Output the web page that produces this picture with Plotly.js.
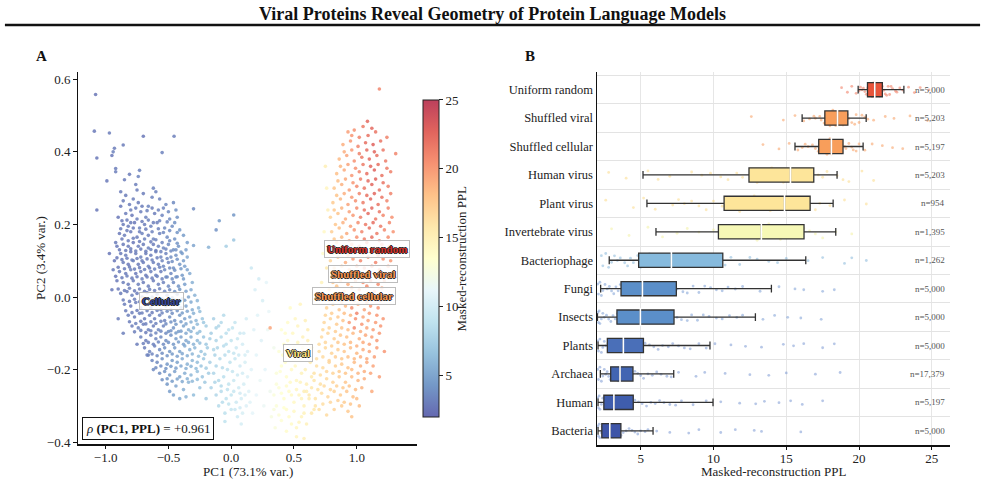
<!DOCTYPE html>
<html>
<head>
<meta charset="utf-8">
<script src="https://cdn.plot.ly/plotly-3.0.1.min.js"></script>
<style>
  html, body { margin: 0; padding: 0; background: #fff; }
  #chart { width: 985px; height: 482px; }
</style>
</head>
<body>
<div id="chart"></div>
<script>
// ---------- Panel A: PCA embedding, rows of [PC1, PC2, PPL] ----------
const cellularSparse = [
  [-1.08,0.558,2.6],[-1.09,0.457,2.8],[-0.97,0.452,3.0],[-0.70,0.443,2.7],[-0.455,0.443,3.1],[-0.86,0.419,2.9],[-0.94,0.40,3.2],[-0.93,0.41,3.0],[-0.95,0.39,2.8],[-0.55,0.398,3.3],
  [-1.07,0.383,2.7],[-0.92,0.354,3.0],[-0.92,0.345,3.1],[-0.73,0.349,3.2],[-0.81,0.338,2.9],[-0.74,0.332,3.4],[-0.85,0.323,3.0],[-0.99,0.32,2.8],[-1.07,0.24,2.7],[-0.30,0.243,3.6],
  [0.02,0.226,4.2],[-0.095,0.21,4.5],[-0.12,0.185,4.0],[0.02,0.157,6.8],[-0.04,0.14,7.5],[-0.18,0.137,5.8],[-0.30,0.142,5.0],[-0.88,0.29,3.0],[-0.62,0.30,3.3],[-0.76,0.31,3.1]
];
const cellularUpper = [
  [-0.84,0.28,2.9],[-0.78,0.27,3.1],[-0.70,0.285,3.0],[-0.63,0.275,3.3],[-0.57,0.27,3.2],[-0.88,0.25,2.8],[-0.81,0.255,3.0],[-0.74,0.26,2.9],[-0.66,0.25,3.4],[-0.52,0.255,3.5],
  [-0.46,0.26,3.6],[-0.90,0.22,2.7],[-0.84,0.23,3.0],[-0.79,0.225,2.8],[-0.72,0.235,3.1],[-0.68,0.22,3.2],[-0.61,0.23,3.0],[-0.55,0.225,3.4],[-0.49,0.215,3.7],[-0.43,0.22,3.9],
  [-0.86,0.20,2.9],[-0.82,0.195,3.0],[-0.77,0.205,2.7],[-0.73,0.19,3.2],[-0.69,0.20,3.0],[-0.64,0.195,3.3],[-0.59,0.205,3.1],[-0.53,0.19,3.6],[-0.47,0.195,3.8],[-0.41,0.185,4.2],
  [-0.89,0.175,2.8],[-0.85,0.17,3.1],[-0.80,0.18,2.9],[-0.75,0.165,3.0],[-0.71,0.175,3.3],[-0.66,0.17,3.1],[-0.62,0.16,3.4],[-0.57,0.175,3.2],[-0.51,0.165,3.7],[-0.45,0.16,4.0],
  [-0.38,0.17,4.5],[-0.35,0.15,4.8],[-0.92,0.15,2.9],[-0.60,0.29,3.2],[-0.75,0.295,3.0],
  [-0.86,0.265,2.9],[-0.80,0.24,3.0],[-0.76,0.245,3.1],[-0.71,0.25,2.9],[-0.67,0.238,3.2],[-0.63,0.245,3.0],[-0.58,0.24,3.3],[-0.54,0.245,3.4],[-0.50,0.235,3.6],[-0.44,0.24,3.9],
  [-0.87,0.21,2.8],[-0.83,0.212,3.0],[-0.80,0.205,2.9],[-0.75,0.215,3.1],[-0.71,0.208,3.0],[-0.66,0.212,3.2],[-0.62,0.205,3.1],[-0.57,0.21,3.4],[-0.51,0.207,3.5],[-0.45,0.205,3.9],
  [-0.88,0.188,2.9],[-0.83,0.183,3.0],[-0.78,0.19,2.8],[-0.73,0.18,3.1],[-0.68,0.187,3.0],[-0.63,0.18,3.3],[-0.58,0.188,3.2],[-0.54,0.178,3.5],[-0.49,0.183,3.7],[-0.43,0.178,4.1],
  [-0.87,0.16,2.8],[-0.82,0.155,3.0],[-0.78,0.162,3.1],[-0.73,0.153,2.9],[-0.69,0.16,3.2],[-0.64,0.152,3.0],[-0.60,0.158,3.3],[-0.55,0.15,3.4],[-0.49,0.155,3.7],[-0.43,0.148,4.1]
];
const cellularCore = [
  [-0.91,0.14,2.8],[-0.86,0.145,2.9],[-0.82,0.14,3.0],[-0.78,0.15,2.7],[-0.74,0.14,3.1],[-0.70,0.145,2.9],[-0.66,0.135,3.2],[-0.62,0.145,3.0],[-0.58,0.14,3.3],[-0.54,0.135,3.5],
  [-0.50,0.145,3.6],[-0.46,0.13,3.9],[-0.42,0.14,4.1],[-0.88,0.12,2.9],[-0.84,0.115,3.1],[-0.80,0.125,2.8],[-0.76,0.12,3.0],[-0.72,0.11,3.2],[-0.68,0.12,2.9],[-0.64,0.115,3.1],
  [-0.60,0.125,3.0],[-0.56,0.11,3.4],[-0.52,0.12,3.3],[-0.48,0.11,3.8],[-0.44,0.115,4.0],[-0.39,0.12,4.6],[-0.35,0.11,5.2],[-0.93,0.10,2.7],[-0.86,0.095,3.0],[-0.82,0.09,2.8],
  [-0.78,0.10,3.1],[-0.74,0.09,2.9],[-0.70,0.095,3.0],[-0.66,0.085,3.3],[-0.62,0.095,3.1],[-0.58,0.09,3.2],[-0.54,0.085,3.5],[-0.50,0.095,3.4],[-0.46,0.08,3.9],[-0.41,0.09,4.3],
  [-0.37,0.085,4.8],[-0.89,0.07,2.9],[-0.84,0.065,3.0],[-0.80,0.075,3.2],[-0.76,0.065,2.8],[-0.72,0.07,3.1],[-0.68,0.06,3.0],[-0.64,0.07,3.2],[-0.60,0.06,3.4],[-0.56,0.07,3.1],
  [-0.52,0.055,3.6],[-0.48,0.065,3.5],[-0.44,0.055,4.0],[-0.39,0.06,4.4],[-0.33,0.065,5.4],[-0.91,0.045,2.8],[-0.86,0.04,3.1],[-0.82,0.035,2.9],[-0.78,0.045,3.0],[-0.74,0.035,3.2],
  [-0.70,0.04,2.9],[-0.66,0.03,3.1],[-0.62,0.045,3.0],[-0.58,0.035,3.3],[-0.54,0.04,3.2],[-0.50,0.03,3.7],[-0.46,0.04,3.6],[-0.42,0.03,4.1],[-0.37,0.035,4.7],[-0.31,0.04,5.6],
  [-0.89,0.13,2.8],[-0.84,0.128,3.0],[-0.80,0.133,2.9],[-0.76,0.127,3.1],[-0.72,0.132,2.8],[-0.68,0.126,3.0],[-0.64,0.131,3.2],[-0.60,0.128,3.1],[-0.56,0.125,3.3],[-0.52,0.132,3.4],
  [-0.48,0.127,3.7],[-0.44,0.13,4.0],[-0.40,0.124,4.3],[-0.36,0.13,4.8],
  [-0.91,0.108,2.7],[-0.87,0.103,2.9],[-0.83,0.107,3.0],[-0.79,0.102,3.2],[-0.75,0.106,2.9],[-0.71,0.10,3.1],[-0.67,0.105,3.0],[-0.63,0.102,3.2],[-0.59,0.108,3.1],[-0.55,0.10,3.4],
  [-0.51,0.106,3.5],[-0.47,0.098,3.8],[-0.43,0.104,4.1],[-0.38,0.10,4.6],
  [-0.90,0.082,2.8],[-0.85,0.078,3.0],[-0.81,0.083,2.9],[-0.77,0.077,3.1],[-0.73,0.081,3.0],[-0.69,0.076,3.2],[-0.65,0.08,3.0],[-0.61,0.077,3.3],[-0.57,0.082,3.2],[-0.53,0.075,3.5],
  [-0.49,0.08,3.6],[-0.45,0.074,3.9],[-0.40,0.078,4.4],[-0.35,0.075,5.0],
  [-0.92,0.057,2.7],[-0.87,0.053,2.9],[-0.83,0.058,3.1],[-0.79,0.052,2.9],[-0.75,0.056,3.0],[-0.71,0.05,3.2],[-0.67,0.055,3.0],[-0.63,0.052,3.1],[-0.59,0.057,3.3],[-0.55,0.05,3.3],
  [-0.51,0.055,3.6],[-0.47,0.05,3.8],[-0.43,0.056,4.0],[-0.38,0.05,4.6],
  [-0.90,0.022,2.8],[-0.85,0.018,3.0],[-0.81,0.024,3.1],[-0.77,0.017,2.9],[-0.73,0.022,3.1],[-0.69,0.016,3.0],[-0.65,0.021,3.2],[-0.61,0.018,3.1],[-0.57,0.023,3.3],[-0.53,0.016,3.5],
  [-0.49,0.02,3.6],[-0.45,0.015,4.0],[-0.41,0.021,4.2],[-0.36,0.016,4.8],[-0.32,0.02,5.3]
];
const cellularLower = [
  [-0.88,0.01,2.9],[-0.83,0.015,3.0],[-0.79,0.005,3.2],[-0.75,0.01,2.9],[-0.71,0.0,3.1],[-0.67,0.012,3.0],[-0.63,0.0,3.3],[-0.59,0.008,3.1],[-0.55,-0.005,3.4],[-0.51,0.005,3.6],
  [-0.47,-0.002,3.8],[-0.43,0.008,4.0],[-0.39,-0.005,4.5],[-0.34,0.0,5.0],[-0.29,0.005,5.8],[-0.85,-0.02,3.0],[-0.80,-0.025,2.8],[-0.76,-0.015,3.1],[-0.72,-0.03,3.0],[-0.68,-0.02,3.2],
  [-0.64,-0.03,2.9],[-0.60,-0.02,3.3],[-0.56,-0.035,3.2],[-0.52,-0.025,3.5],[-0.48,-0.035,3.7],[-0.44,-0.02,3.9],[-0.40,-0.03,4.4],[-0.36,-0.025,4.9],[-0.31,-0.035,5.5],[-0.26,-0.03,6.2],
  [-0.82,-0.05,3.1],[-0.77,-0.055,2.9],[-0.73,-0.045,3.2],[-0.69,-0.06,3.0],[-0.65,-0.05,3.3],[-0.61,-0.06,3.1],[-0.57,-0.05,3.4],[-0.53,-0.065,3.3],[-0.49,-0.055,3.8],[-0.45,-0.065,4.0],
  [-0.41,-0.05,4.3],[-0.37,-0.06,4.8],[-0.33,-0.055,5.3],[-0.28,-0.065,6.0],[-0.23,-0.06,6.8],[-0.79,-0.08,3.0],[-0.74,-0.085,3.3],[-0.70,-0.075,3.1],[-0.66,-0.09,3.2],[-0.62,-0.08,3.0],
  [-0.58,-0.09,3.5],[-0.54,-0.08,3.4],[-0.50,-0.095,3.9],[-0.46,-0.085,4.1],[-0.42,-0.095,4.6],[-0.38,-0.08,4.9],[-0.34,-0.09,5.5],[-0.30,-0.085,5.9],[-0.25,-0.095,6.5],[-0.20,-0.08,7.3],
  [-0.95,0.02,2.8],[-0.90,-0.06,3.0],[-0.97,0.12,2.7],[-0.86,-0.10,3.1],[-0.94,0.075,2.9],
  [-0.86,-0.008,3.0],[-0.81,-0.012,2.9],[-0.77,-0.006,3.1],[-0.73,-0.013,3.0],[-0.69,-0.007,3.2],[-0.65,-0.012,3.0],[-0.61,-0.006,3.2],[-0.57,-0.013,3.3],[-0.53,-0.008,3.5],[-0.49,-0.014,3.7],
  [-0.45,-0.008,3.9],[-0.41,-0.013,4.3],[-0.37,-0.009,4.7],[-0.32,-0.014,5.3],[-0.27,-0.01,6.0],
  [-0.84,-0.038,3.0],[-0.79,-0.043,3.1],[-0.75,-0.037,2.9],[-0.71,-0.044,3.1],[-0.67,-0.038,3.2],[-0.63,-0.043,3.0],[-0.59,-0.037,3.3],[-0.55,-0.044,3.4],[-0.51,-0.039,3.6],[-0.47,-0.045,3.8],
  [-0.43,-0.038,4.1],[-0.39,-0.044,4.5],[-0.35,-0.039,5.0],[-0.30,-0.045,5.7],[-0.25,-0.04,6.4],
  [-0.81,-0.068,3.0],[-0.76,-0.073,3.2],[-0.72,-0.067,3.0],[-0.68,-0.074,3.1],[-0.64,-0.068,3.3],[-0.60,-0.073,3.2],[-0.56,-0.067,3.4],[-0.52,-0.074,3.6],[-0.48,-0.069,3.9],[-0.44,-0.075,4.2],
  [-0.40,-0.068,4.6],[-0.36,-0.074,5.0],[-0.32,-0.069,5.6],[-0.27,-0.075,6.2],[-0.22,-0.07,7.0],
  [-0.77,-0.096,3.1],[-0.72,-0.092,3.2],[-0.68,-0.098,3.0],[-0.64,-0.093,3.3],[-0.60,-0.099,3.4],[-0.56,-0.094,3.5],[-0.52,-0.1,3.7],[-0.48,-0.093,4.0],[-0.44,-0.099,4.4],[-0.40,-0.094,4.7],
  [-0.36,-0.1,5.2],[-0.32,-0.095,5.7],[-0.27,-0.1,6.3]
];
const cellularTail = [
  [-0.72,-0.11,3.2],[-0.68,-0.12,3.0],[-0.64,-0.105,3.3],[-0.60,-0.115,3.4],[-0.56,-0.11,3.6],[-0.52,-0.12,3.8],[-0.48,-0.105,4.0],[-0.44,-0.115,4.5],[-0.40,-0.11,4.8],[-0.36,-0.12,5.2],
  [-0.32,-0.11,5.6],[-0.27,-0.12,6.2],[-0.22,-0.11,6.8],[-0.17,-0.115,7.5],[-0.69,-0.14,3.1],[-0.65,-0.15,3.4],[-0.61,-0.135,3.3],[-0.57,-0.145,3.7],[-0.53,-0.14,3.9],[-0.49,-0.15,4.2],
  [-0.45,-0.14,4.6],[-0.41,-0.15,4.9],[-0.37,-0.135,5.3],[-0.33,-0.145,5.8],[-0.29,-0.14,6.1],[-0.24,-0.15,6.7],[-0.19,-0.14,7.2],[-0.14,-0.145,8.0],[-0.63,-0.175,3.5],[-0.59,-0.18,3.6],
  [-0.55,-0.17,3.9],[-0.51,-0.185,4.3],[-0.47,-0.175,4.5],[-0.43,-0.18,4.9],[-0.39,-0.17,5.4],[-0.35,-0.185,5.7],[-0.31,-0.175,6.0],[-0.27,-0.18,6.4],[-0.22,-0.17,7.0],[-0.17,-0.18,7.6],
  [-0.57,-0.21,3.8],[-0.53,-0.205,4.1],[-0.49,-0.215,4.4],[-0.45,-0.205,4.8],[-0.41,-0.22,5.1],[-0.37,-0.21,5.5],[-0.32,-0.215,6.0],[-0.27,-0.205,6.5],[-0.23,-0.22,6.9],[-0.18,-0.21,7.4],
  [-0.51,-0.24,4.2],[-0.49,-0.26,4.6],[-0.44,-0.245,5.0],[-0.38,-0.255,5.6],[-0.30,-0.27,6.3],[-0.34,-0.235,5.9],[-0.25,-0.25,6.9],[-0.62,-0.20,3.7],[-0.66,-0.16,3.3],[-0.75,-0.13,3.0],
  [-0.70,-0.128,3.1],[-0.66,-0.125,3.2],[-0.62,-0.13,3.3],[-0.58,-0.124,3.5],[-0.54,-0.13,3.7],[-0.50,-0.125,4.0],[-0.46,-0.13,4.3],[-0.42,-0.124,4.7],[-0.38,-0.13,5.0],[-0.34,-0.125,5.4],
  [-0.30,-0.13,5.8],[-0.25,-0.127,6.4],[-0.20,-0.13,7.0],
  [-0.67,-0.16,3.3],[-0.63,-0.157,3.4],[-0.59,-0.162,3.6],[-0.55,-0.155,3.8],[-0.51,-0.162,4.1],[-0.47,-0.157,4.4],[-0.43,-0.163,4.8],[-0.39,-0.156,5.2],[-0.35,-0.162,5.5],[-0.31,-0.157,5.9],
  [-0.26,-0.163,6.5],[-0.21,-0.158,7.1],
  [-0.60,-0.195,3.6],[-0.56,-0.19,3.8],[-0.52,-0.197,4.1],[-0.48,-0.191,4.4],[-0.44,-0.196,4.8],[-0.40,-0.19,5.2],[-0.36,-0.197,5.6],[-0.32,-0.191,5.9],[-0.28,-0.197,6.3],[-0.24,-0.19,6.8],
  [-0.20,-0.196,7.3],
  [-0.55,-0.228,3.9],[-0.51,-0.225,4.2],[-0.47,-0.232,4.5],[-0.43,-0.226,4.9],[-0.39,-0.233,5.3],[-0.35,-0.225,5.7],[-0.31,-0.232,6.1],[-0.27,-0.227,6.5],[-0.21,-0.235,7.1],[-0.46,-0.27,4.9],
  [-0.41,-0.28,5.3],[-0.36,-0.275,5.8]
];
const transition = [
  [-0.14,-0.06,7.6],[-0.10,-0.08,8.0],[-0.06,-0.05,8.3],[-0.02,-0.09,8.8],[0.03,-0.07,9.2],[0.07,-0.10,9.6],[-0.16,-0.10,7.4],[-0.12,-0.12,7.9],[-0.08,-0.11,8.3],[-0.04,-0.13,8.6],
  [0.00,-0.12,9.0],[0.04,-0.14,9.5],[0.09,-0.13,10.0],[0.13,-0.15,10.4],[-0.13,-0.16,7.8],[-0.09,-0.17,8.2],[-0.05,-0.16,8.5],[-0.01,-0.18,8.9],[0.03,-0.17,9.3],[0.07,-0.19,9.8],
  [0.11,-0.18,10.2],[0.16,-0.20,10.7],[-0.14,-0.21,7.9],[-0.10,-0.23,8.1],[-0.06,-0.22,8.6],[-0.02,-0.24,9.0],[0.02,-0.23,9.4],[0.06,-0.25,9.7],[0.10,-0.24,10.1],[0.14,-0.26,10.6],
  [-0.16,-0.25,7.7],[-0.12,-0.27,8.0],[-0.08,-0.26,8.4],[-0.04,-0.28,8.8],[0.00,-0.27,9.1],[0.04,-0.29,9.6],[0.08,-0.28,10.0],[0.12,-0.30,10.5],[-0.10,-0.30,8.3],[-0.05,-0.32,8.7],
  [0.00,-0.31,9.2],[0.05,-0.33,9.7],[0.09,-0.32,10.2],[-0.05,-0.343,8.9],[0.08,-0.35,10.1],[0.17,-0.32,11.0],[0.18,-0.09,10.6],[0.12,-0.06,10.0],[-0.20,-0.28,7.4],[0.20,-0.27,11.2],
  [0.16,0.08,9.5],[0.22,0.05,9.9],[0.19,0.02,10.3],[0.25,-0.01,10.2],[0.28,0.04,11.0],[0.21,-0.05,10.8],[0.30,-0.04,11.3],[0.24,-0.12,10.6],[0.20,-0.16,10.9],[0.27,-0.20,11.0],
  [0.23,-0.23,11.4],[0.31,-0.26,11.8],[0.26,-0.30,11.5],[0.34,-0.14,12.0],[0.29,-0.09,11.6],
  [-0.12,-0.085,7.8],[-0.08,-0.07,8.2],[-0.04,-0.1,8.6],[0.01,-0.085,9.1],[0.05,-0.115,9.4],[0.10,-0.1,9.9],[-0.11,-0.14,8.0],[-0.06,-0.135,8.4],[-0.02,-0.15,8.8],[0.02,-0.155,9.2],
  [0.06,-0.16,9.6],[0.11,-0.16,10.1],[-0.12,-0.19,7.9],[-0.07,-0.195,8.4],[-0.03,-0.2,8.8],[0.01,-0.205,9.2],[0.05,-0.215,9.6],[0.09,-0.21,10.0],[0.13,-0.22,10.5],[-0.13,-0.235,7.9],
  [-0.08,-0.245,8.3],[-0.03,-0.255,8.8],[0.02,-0.26,9.3],[0.07,-0.265,9.8],[0.11,-0.27,10.3],[-0.07,-0.29,8.5],[-0.02,-0.295,9.0],[0.03,-0.31,9.5],[0.07,-0.305,9.9],[0.15,-0.29,10.8]
];
const viralLow = [
  [0.32,-0.33,12.6],[0.36,-0.30,13.0],[0.40,-0.34,13.3],[0.44,-0.31,13.7],[0.48,-0.35,14.0],[0.52,-0.36,14.3],[0.56,-0.33,14.6],[0.60,-0.35,15.0],[0.34,-0.27,12.9],[0.38,-0.25,13.2],
  [0.42,-0.28,13.6],[0.46,-0.26,13.9],[0.50,-0.29,14.2],[0.54,-0.27,14.6],[0.58,-0.30,14.9],[0.62,-0.28,15.3],[0.36,-0.21,13.0],[0.40,-0.19,13.4],[0.44,-0.22,13.7],[0.48,-0.20,14.1],
  [0.52,-0.23,14.4],[0.56,-0.21,14.8],[0.60,-0.24,15.1],[0.64,-0.22,15.5],[0.38,-0.15,13.2],[0.42,-0.13,13.5],[0.46,-0.16,13.9],[0.50,-0.14,14.3],[0.55,-0.17,14.7],[0.59,-0.15,15.0],
  [0.63,-0.18,15.4],[0.40,-0.09,13.4],[0.45,-0.07,13.8],[0.49,-0.10,14.2],[0.53,-0.08,14.5],[0.57,-0.11,14.9],[0.61,-0.09,15.3],[0.44,-0.37,13.8],[0.52,-0.385,14.5],[0.35,-0.36,12.8],
  [0.47,-0.03,13.9],[0.55,-0.02,14.6],[0.66,-0.31,15.6],[0.58,-0.39,15.0],[0.31,-0.085,19.5],
  [0.34,-0.31,12.8],[0.38,-0.325,13.1],[0.42,-0.305,13.5],[0.46,-0.33,13.9],[0.50,-0.315,14.2],[0.54,-0.345,14.5],[0.58,-0.32,14.8],[0.36,-0.24,13.0],[0.40,-0.265,13.4],[0.44,-0.245,13.8],
  [0.48,-0.27,14.1],[0.52,-0.255,14.4],[0.56,-0.28,14.7],[0.60,-0.26,15.1],[0.39,-0.205,13.3],[0.43,-0.18,13.6],[0.47,-0.235,14.0],[0.51,-0.19,14.3],[0.55,-0.235,14.7],[0.59,-0.2,15.0],
  [0.41,-0.16,13.5],[0.45,-0.12,13.8],[0.49,-0.17,14.1],[0.53,-0.125,14.5],[0.57,-0.14,14.8],[0.61,-0.12,15.2],[0.43,-0.1,13.7],[0.51,-0.06,14.3],[0.59,-0.065,15.0],[0.64,-0.14,15.5]
];
const columnLow = [
  [0.64,-0.32,15.8],[0.70,-0.31,16.2],[0.76,-0.325,16.6],[0.82,-0.31,17.0],[0.88,-0.30,17.3],[0.93,-0.315,17.6],
  [0.62,-0.27,15.7],[0.67,-0.28,16.0],[0.72,-0.265,16.4],[0.77,-0.275,16.8],[0.82,-0.26,17.1],[0.87,-0.27,17.4],[0.92,-0.26,17.8],[0.97,-0.275,18.1],
  [0.66,-0.23,16.0],[0.71,-0.24,16.3],[0.76,-0.225,16.7],[0.81,-0.235,17.0],[0.86,-0.22,17.5],[0.91,-0.235,17.8],[0.96,-0.22,18.2],[1.01,-0.23,18.6],[1.06,-0.225,19.0],
  [0.68,-0.19,16.2],[0.73,-0.195,16.5],[0.78,-0.18,16.9],[0.83,-0.19,17.2],[0.88,-0.185,17.6],[0.93,-0.195,18.0],[0.98,-0.18,18.4],[1.03,-0.19,18.8],[1.08,-0.18,19.2],[1.13,-0.19,19.5],
  [0.70,-0.15,16.4],[0.75,-0.14,16.7],[0.80,-0.155,17.1],[0.85,-0.145,17.4],[0.90,-0.15,17.8],[0.95,-0.14,18.2],[1.00,-0.155,18.6],[1.05,-0.145,19.0],[1.10,-0.15,19.4],[1.16,-0.14,19.8],
  [0.72,-0.11,16.6],[0.77,-0.10,16.9],[0.82,-0.115,17.3],[0.87,-0.105,17.7],[0.92,-0.11,18.1],[0.97,-0.10,18.5],[1.02,-0.115,18.9],[1.07,-0.105,19.3],[1.12,-0.11,19.7],[1.18,-0.10,20.0],
  [0.74,-0.07,16.8],[0.79,-0.06,17.1],[0.84,-0.075,17.5],[0.89,-0.065,18.0],[0.94,-0.07,19.8],[0.99,-0.06,20.4],[1.04,-0.075,20.1],[1.09,-0.065,19.5],[1.15,-0.07,19.9],[1.21,-0.06,20.2],
  [0.76,-0.03,17.0],[0.81,-0.02,17.4],[0.86,-0.035,17.9],[0.91,-0.025,18.4],[0.96,-0.03,20.6],[1.01,-0.02,19.2],[1.06,-0.035,19.6],[1.11,-0.025,20.0],[1.17,-0.03,20.3],
  [1.22,-0.15,20.2],[1.18,-0.22,19.8],[1.12,-0.26,19.2],[1.02,-0.30,18.3],[0.96,-0.33,18.0],[0.58,-0.26,15.3],
  [0.67,-0.30,16.0],[0.73,-0.295,16.4],[0.79,-0.29,16.8],[0.85,-0.285,17.2],[0.90,-0.29,17.5],[0.95,-0.295,17.9],[1.00,-0.28,18.2],
  [0.64,-0.25,15.8],[0.69,-0.255,16.1],[0.74,-0.245,16.5],[0.79,-0.255,16.9],[0.84,-0.245,17.2],[0.89,-0.25,17.6],[0.94,-0.245,18.0],[0.99,-0.255,18.3],[1.04,-0.25,18.7],
  [0.66,-0.21,16.1],[0.71,-0.215,16.4],[0.76,-0.205,16.8],[0.81,-0.21,17.1],[0.86,-0.205,17.5],[0.91,-0.21,17.9],[0.96,-0.2,18.3],[1.01,-0.21,18.7],[1.06,-0.205,19.0],[1.11,-0.21,19.4],
  [0.68,-0.17,16.3],[0.73,-0.165,16.6],[0.78,-0.175,17.0],[0.83,-0.165,17.3],[0.88,-0.17,17.7],[0.93,-0.165,18.1],[0.98,-0.17,18.5],[1.03,-0.165,18.9],[1.08,-0.17,19.3],[1.14,-0.165,19.7],
  [0.70,-0.13,16.5],[0.75,-0.125,16.8],[0.80,-0.135,17.2],[0.85,-0.125,17.6],[0.90,-0.13,18.0],[0.95,-0.125,18.4],[1.00,-0.135,18.8],[1.05,-0.125,19.2],[1.10,-0.13,19.6],[1.16,-0.12,20.0],
  [0.73,-0.09,16.7],[0.78,-0.085,17.0],[0.83,-0.095,17.4],[0.88,-0.085,17.8],[0.93,-0.09,18.2],[0.98,-0.085,20.8],[1.03,-0.095,19.0],[1.08,-0.085,19.4],[1.13,-0.09,19.8],[1.19,-0.08,20.1],
  [0.75,-0.05,16.9],[0.80,-0.045,17.3],[0.85,-0.055,17.7],[0.90,-0.045,18.2],[0.95,-0.05,18.6],[1.00,-0.045,21.0],[1.05,-0.055,19.4],[1.10,-0.045,19.8],[1.16,-0.05,20.2],
  [0.78,-0.01,17.1],[0.83,-0.005,17.6],[0.88,-0.015,18.1],[0.93,-0.005,18.6],[0.98,-0.01,19.1],[1.03,-0.005,20.9],[1.08,-0.015,19.7],[1.13,-0.005,20.1],[1.19,-0.01,20.4]
];
const columnHigh = [
  [0.78,0.02,17.2],[0.84,0.03,17.8],[0.90,0.015,18.5],[0.96,0.025,19.3],[1.02,0.02,20.0],[1.08,0.03,20.6],[1.14,0.015,20.2],[1.20,0.025,19.8],
  [0.80,0.06,17.5],[0.86,0.07,18.1],[0.92,0.055,18.9],[0.98,0.065,19.6],[1.04,0.06,20.3],[1.10,0.07,21.0],[1.16,0.055,20.5],[1.23,0.065,20.1],
  [0.79,0.10,17.0],[0.85,0.11,18.3],[0.91,0.095,19.0],[0.97,0.105,19.8],[1.03,0.10,20.8],[1.09,0.11,21.5],[1.15,0.095,21.0],[1.21,0.105,20.4],[1.27,0.10,20.0],
  [0.78,0.14,16.8],[0.84,0.15,17.9],[0.90,0.135,18.8],[0.96,0.145,19.9],[1.02,0.14,20.7],[1.08,0.15,21.8],[1.14,0.135,21.2],[1.20,0.145,20.6],[1.26,0.14,20.1],
  [0.80,0.18,17.3],[0.86,0.19,18.2],[0.92,0.175,19.3],[0.98,0.185,20.2],[1.04,0.18,21.0],[1.10,0.19,22.0],[1.16,0.175,21.4],[1.22,0.185,20.8],[1.29,0.18,20.3],
  [0.79,0.22,17.1],[0.85,0.23,18.0],[0.91,0.215,19.1],[0.97,0.225,20.0],[1.03,0.22,21.2],[1.09,0.23,22.3],[1.15,0.215,21.6],[1.21,0.225,20.9],[1.28,0.22,20.4],
  [0.81,0.26,17.6],[0.87,0.27,18.6],[0.93,0.255,19.6],[0.99,0.265,20.5],[1.05,0.26,21.5],[1.11,0.27,22.5],[1.17,0.255,21.8],[1.24,0.265,21.0],
  [0.82,0.30,17.8],[0.88,0.31,18.9],[0.94,0.295,19.8],[1.00,0.305,20.8],[1.06,0.30,21.7],[1.12,0.31,22.6],[1.18,0.295,21.9],[1.25,0.305,21.2],
  [0.84,0.34,18.2],[0.90,0.35,19.2],[0.96,0.335,20.1],[1.02,0.345,21.0],[1.08,0.34,22.1],[1.14,0.35,22.8],[1.20,0.335,21.9],[1.27,0.345,21.3],
  [0.86,0.38,18.5],[0.92,0.39,19.5],[0.98,0.375,20.4],[1.04,0.385,21.6],[1.10,0.38,22.4],[1.16,0.39,22.0],[1.23,0.375,21.5],
  [0.89,0.42,19.0],[0.95,0.43,20.0],[1.01,0.415,21.0],[1.07,0.425,22.2],[1.13,0.42,22.8],[1.19,0.43,21.8],[1.31,0.395,21.0],
  [0.98,0.46,20.5],[1.05,0.47,21.5],[1.085,0.484,22.5],[1.15,0.455,21.8],[1.18,0.573,21.0],[0.93,0.455,19.8],[1.24,0.44,21.2],
  [0.76,0.30,14.5],[0.77,0.24,15.0],[0.74,0.18,14.2],[0.76,0.08,15.5],[0.72,0.04,14.8],[0.75,0.36,15.2],[0.73,0.12,13.8],
  [0.81,0.04,17.6],[0.87,0.045,18.2],[0.93,0.035,19.0],[0.99,0.045,19.7],[1.05,0.04,20.4],[1.11,0.045,21.1],[1.17,0.035,20.6],[1.22,0.045,20.2],
  [0.82,0.08,17.7],[0.88,0.085,18.4],[0.94,0.075,19.2],[1.00,0.085,20.0],[1.06,0.08,20.8],[1.12,0.085,21.3],[1.18,0.075,20.7],[1.25,0.085,20.2],
  [0.81,0.12,17.4],[0.87,0.125,18.5],[0.93,0.115,19.3],[0.99,0.125,20.1],[1.05,0.12,21.0],[1.11,0.125,21.7],[1.17,0.115,21.1],[1.24,0.125,20.5],
  [0.82,0.16,17.6],[0.88,0.165,18.6],[0.94,0.155,19.5],[1.00,0.165,20.4],[1.06,0.16,21.3],[1.12,0.165,22.0],[1.18,0.155,21.3],[1.25,0.165,20.6],
  [0.83,0.20,17.8],[0.89,0.205,18.8],[0.95,0.195,19.7],[1.01,0.205,20.6],[1.07,0.20,21.6],[1.13,0.205,22.2],[1.19,0.195,21.5],[1.26,0.205,20.8],
  [0.82,0.24,17.7],[0.88,0.245,18.7],[0.94,0.235,19.7],[1.00,0.245,20.7],[1.06,0.24,21.8],[1.12,0.245,22.4],[1.18,0.235,21.7],[1.25,0.245,21.0],
  [0.84,0.28,18.0],[0.90,0.285,19.0],[0.96,0.275,20.0],[1.02,0.285,21.0],[1.08,0.28,22.0],[1.14,0.285,22.6],[1.20,0.275,21.8],[1.27,0.285,21.1],
  [0.85,0.32,18.3],[0.91,0.325,19.3],[0.97,0.315,20.2],[1.03,0.325,21.2],[1.09,0.32,22.3],[1.15,0.325,22.7],[1.21,0.315,21.9],
  [0.87,0.36,18.6],[0.93,0.365,19.6],[0.99,0.355,20.4],[1.05,0.365,21.5],[1.11,0.36,22.5],[1.17,0.365,22.1],[1.24,0.355,21.4],
  [0.90,0.40,19.0],[0.96,0.405,20.0],[1.02,0.395,21.2],[1.08,0.405,22.3],[1.14,0.40,22.6],[1.21,0.405,21.7],
  [0.96,0.445,20.2],[1.02,0.44,21.1],[1.09,0.445,22.0],[1.12,0.465,22.4]
];

// Group labels placed in PC space: [text, PC1, PC2, fill colour]
const groupLabels = [
  ['Uniform random', 1.08, 0.132, '#d73027'],
  ['Shuffled viral', 1.05, 0.063, '#f7964f'],
  ['Shuffled cellular', 0.98, 0.003, '#f7964f'],
  ['Cellular', -0.556, -0.011, '#34479c'],
  ['Viral', 0.53, -0.154, '#fee27a']
];
const rhoValue = 0.961;

// ---------- Panel B: PPL distribution summary per source ----------
const sources = ['Uniform random','Shuffled viral','Shuffled cellular','Human virus','Plant virus','Invertebrate virus',
                 'Bacteriophage','Fungi','Insects','Plants','Archaea','Human','Bacteria'];
const whiskerLow  = [19.94,16.09,15.60, 5.16, 5.43, 6.05, 2.84, 2.25, 2.03, 2.07, 2.23, 2.07, 2.07];
const quart1      = [20.58,17.65,17.23,12.44,10.73,10.34, 4.86, 3.65, 3.37, 2.71, 2.94, 2.47, 2.33];
const medians     = [21.08,18.52,18.10,15.29,14.88,13.29, 7.11, 5.12, 4.98, 3.81, 3.58, 3.16, 2.88];
const quart3      = [21.60,19.23,18.90,16.89,16.64,16.22,10.64, 7.45, 7.29, 5.19, 4.47, 4.49, 3.64];
const whiskerHigh = [23.08,20.49,20.28,18.49,18.22,18.40,16.34,13.98,12.88, 9.76, 7.27, 9.97, 5.85];
const sampleSizes = ['n=5,000','n=5,203','n=5,197','n=5,203','n=954','n=1,395','n=1,262',
                     'n=5,000','n=5,000','n=5,000','n=17,379','n=5,197','n=5,000'];
// sampled individual sequences shown as a strip behind each box
const stripValues = [
  [19.2,19.8,20.1,20.4,20.6,20.8,20.9,21.0,21.1,21.2,21.3,21.5,21.6,21.8,22.0,22.3,22.6,23.0,23.4,23.8,24.2,18.8,20.3,21.4,22.1,24.8,
   20.2,20.5,20.7,20.95,21.05,21.15,21.25,21.35,21.45,21.7,21.9,22.2,22.5,22.8,19.5,20.0],
  [12.6,14.8,15.6,16.2,16.6,17.0,17.3,17.6,17.9,18.1,18.3,18.5,18.7,19.0,19.2,19.5,19.8,20.2,20.6,21.0,21.8,22.4,23.5,24.7,
   16.9,17.4,17.7,18.0,18.2,18.4,18.6,18.8,18.9,19.1,19.3,19.7,20.0,20.4,17.8,18.55],
  [13.4,14.5,15.2,15.8,16.3,16.8,17.2,17.5,17.8,18.0,18.2,18.4,18.7,19.0,19.3,19.6,20.0,20.4,20.9,21.6,22.3,23.0,
   16.5,17.0,17.4,17.7,17.9,18.1,18.3,18.5,18.8,19.1,19.5,19.8,16.1,18.05],
  [2.8,4.0,5.5,7.0,8.5,9.8,11.0,12.0,12.8,13.5,14.2,14.8,15.4,16.0,16.5,17.2,17.8,18.5,19.3,20.2,21.0,
   6.2,9.2,10.5,11.6,13.0,14.0,15.0,15.8,16.8,17.5,18.9],
  [2.6,4.5,6.0,7.2,8.0,9.0,10.0,11.2,12.3,13.4,14.5,15.2,16.0,16.6,17.3,18.0,19.0,20.5,
   5.2,7.6,8.5,9.5,10.6,11.8,12.8,13.9,15.6,17.0],
  [3.0,5.5,7.5,9.0,10.5,11.8,12.6,13.4,14.2,15.0,15.8,16.6,17.5,18.4,19.5,
   4.2,6.5,8.2,10.0,11.2,12.2,13.0,13.8,14.6,16.2,17.0],
  [2.3,2.6,3.0,3.4,3.9,4.3,4.8,5.3,5.9,6.5,7.1,7.8,8.6,9.4,10.3,11.2,12.5,13.8,15.0,16.5,17.5,19.0,19.5,20.5,
   2.4,2.8,3.2,3.6,4.1,4.5,5.0,5.6,6.2,6.8,7.4,8.2,9.0,9.8,10.8,11.8,13.0,14.4],
  [2.05,2.2,2.4,2.7,3.0,3.3,3.6,4.0,4.5,5.0,5.5,6.0,6.6,7.2,7.9,8.6,9.4,10.2,11.0,12.0,13.2,14.5,15.6,16.2,17.5,18.3,
   2.1,2.3,2.55,2.85,3.15,3.45,3.8,4.2,4.7,5.2,5.8,6.3,6.9,7.5,8.2,9.0,9.8,10.6,11.5],
  [2.05,2.15,2.3,2.5,2.8,3.1,3.4,3.8,4.2,4.7,5.2,5.8,6.4,7.1,7.8,8.5,9.3,10.2,11.1,12.0,13.4,14.2,15.1,16.0,17.4,
   2.1,2.2,2.4,2.65,2.95,3.25,3.6,4.0,4.45,4.95,5.5,6.1,6.8,7.5,8.2,8.9,9.7,10.6,11.6],
  [2.05,2.2,2.4,2.6,2.9,3.2,3.5,3.9,4.3,4.8,5.3,5.9,6.5,7.2,8.0,9.0,10.1,11.2,12.2,13.3,14.8,15.5,16.2,17.5,18.3,
   2.1,2.3,2.5,2.75,3.05,3.35,3.7,4.1,4.5,5.0,5.6,6.2,6.9,7.6,8.4,9.5],
  [2.05,2.2,2.4,2.6,2.8,3.0,3.3,3.6,3.9,4.2,4.6,5.0,5.5,6.1,6.8,7.6,8.8,9.4,10.8,12.5,13.8,15.0,17.0,18.7,
   2.1,2.3,2.5,2.7,2.9,3.15,3.45,3.75,4.05,4.4,4.8,5.2,5.8,6.4,7.1],
  [2.05,2.15,2.3,2.5,2.7,2.9,3.2,3.5,3.8,4.2,4.6,5.1,5.7,6.3,7.0,7.8,8.6,9.5,10.5,11.8,12.9,13.5,14.5,15.3,16.1,17.5,
   2.1,2.2,2.4,2.6,2.8,3.05,3.35,3.65,4.0,4.4,4.85,5.4,6.0,6.6,7.4],
  [2.05,2.15,2.3,2.45,2.6,2.8,3.0,3.2,3.5,3.8,4.2,4.6,5.0,5.5,6.1,7.0,8.3,9.0,10.5,11.5,12.8,13.3,16.0,
   2.1,2.2,2.35,2.5,2.7,2.9,3.1,3.35,3.65,4.0,4.4,4.8,5.3]
];

// ---------- styling ----------
const SERIF = 'Liberation Serif, Times New Roman, serif';
const boxFill = ['#e8553b','#f89e5b','#f89e5b','#fde59a','#fde59a','#f6f8b6','#86badd',
                 '#5b8fc9','#5b8fc9','#4a6fb8','#4265b2','#3f5dad','#3e55a8'];
const stripColor = ['#ef6a4c','#f7944f','#f7944f','#fbd77e','#fbd77e','#f2f09a','#7eb1d8',
                    '#6f96d2','#6f96d2','#6f90d0','#6f90d0','#6f90d0','#6f90d0'];
// RdYlBu reversed, softened over white
const pplScale = [
  [0.0,'rgb(100,104,176)'],[0.1,'rgb(116,152,199)'],[0.2,'rgb(151,194,221)'],[0.3,'rgb(192,227,239)'],
  [0.4,'rgb(232,246,250)'],[0.5,'rgb(255,255,207)'],[0.6,'rgb(254,232,172)'],[0.7,'rgb(254,194,137)'],
  [0.8,'rgb(247,146,114)'],[0.9,'rgb(225,100,93)'],[1.0,'rgb(188,64,92)']
];

const embedding = [].concat(cellularSparse, cellularUpper, cellularCore, cellularLower, cellularTail,
                            transition, viralLow, columnLow, columnHigh);

const traces = [];
traces.push({
  type: 'scatter', mode: 'markers', xaxis: 'x', yaxis: 'y',
  x: embedding.map(r => r[0]), y: embedding.map(r => r[1]),
  marker: {
    size: 3.6, opacity: 0.85, color: embedding.map(r => r[2]),
    colorscale: pplScale, cmin: 2, cmax: 25,
    line: {width: 0},
    colorbar: {
      x: 0.4294, xanchor: 'left', xref: 'paper', y: 0.4637, yanchor: 'middle',
      len: 0.658, lenmode: 'fraction', thickness: 16, thicknessmode: 'pixels',
      xpad: 0, ypad: 0,
      outlinewidth: 1, outlinecolor: '#222',
      tickvals: [5, 10, 15, 20, 25], ticks: 'outside', ticklen: 4, tickcolor: '#222',
      tickfont: {family: SERIF, size: 13, color: '#222'}
    }
  },
  hoverinfo: 'skip', showlegend: false
});

// strip of individual values (box outline hidden, only points shown)
sources.forEach((s, i) => {
  traces.push({
    type: 'box', orientation: 'h', xaxis: 'x2', yaxis: 'y2', name: s,
    x: stripValues[i], boxpoints: 'all', jitter: 1, pointpos: 0, width: 0.62,
    fillcolor: 'rgba(0,0,0,0)', line: {color: 'rgba(0,0,0,0)', width: 0}, whiskerwidth: 0,
    marker: {size: 2.8, color: stripColor[i], opacity: 0.5},
    hoverinfo: 'skip', showlegend: false
  });
});

// summary boxes
sources.forEach((s, i) => {
  traces.push({
    type: 'box', orientation: 'h', xaxis: 'x2', yaxis: 'y2', name: s,
    y: [s], q1: [quart1[i]], median: [medians[i]], q3: [quart3[i]],
    lowerfence: [whiskerLow[i]], upperfence: [whiskerHigh[i]],
    boxpoints: false, width: 0.5, whiskerwidth: 0.55,
    fillcolor: boxFill[i], line: {color: '#333', width: 1.3},
    hoverinfo: 'skip', showlegend: false
  });
});

// white median ticks
traces.push({
  type: 'scatter', mode: 'markers', xaxis: 'x2', yaxis: 'y2',
  x: medians, y: sources,
  marker: {symbol: 'line-ns', size: 13, line: {color: '#ffffff', width: 1.6}},
  hoverinfo: 'skip', showlegend: false
});

const titleFont = {family: SERIF, size: 13, color: '#222'};
const annotations = [
  {text: '<b>A</b>', xref: 'paper', yref: 'paper', x: 0.0426, xanchor: 'center', y: 0.884, yanchor: 'middle',
   showarrow: false, font: {family: SERIF, size: 15, color: '#111'}},
  {text: '<b>B</b>', xref: 'paper', yref: 'paper', x: 0.538, xanchor: 'center', y: 0.884, yanchor: 'middle',
   showarrow: false, font: {family: SERIF, size: 15, color: '#111'}},
  {text: 'PC1 (73.1% var.)', xref: 'paper', yref: 'paper', x: 0.2513, xanchor: 'center', y: 0.021, yanchor: 'middle',
   showarrow: false, font: titleFont},
  {text: 'PC2 (3.4% var.)', xref: 'paper', yref: 'paper', x: 0.0406, xanchor: 'center', y: 0.4647, yanchor: 'middle',
   textangle: -90, showarrow: false, font: titleFont},
  {text: 'Masked-reconstruction PPL', xref: 'paper', yref: 'paper', x: 0.7853, xanchor: 'center', y: 0.021, yanchor: 'middle',
   showarrow: false, font: titleFont},
  {text: 'Masked-reconstruction PPL', xref: 'paper', yref: 'paper', x: 0.4690, xanchor: 'center', y: 0.4637, yanchor: 'middle',
   textangle: -90, showarrow: false, font: titleFont},
  {text: '<i>ρ</i> <b>(PC1, PPL)</b> = +' + rhoValue.toFixed(3), xref: 'paper', yref: 'paper',
   x: 0.0832, xanchor: 'left', y: 0.0871, yanchor: 'bottom', showarrow: false,
   font: {family: SERIF, size: 13, color: '#111'},
   bgcolor: '#ffffff', bordercolor: '#111', borderwidth: 1, borderpad: 3}
];
groupLabels.forEach(g => {
  annotations.push({
    text: '<b>' + g[0] + '</b>', xref: 'x', yref: 'y', x: g[1], y: g[2], showarrow: false,
    font: {family: SERIF, size: 11, color: g[3],
           shadow: '1px 0 0 #222, -1px 0 0 #222, 0 1px 0 #222, 0 -1px 0 #222'},
    bgcolor: 'rgba(255,255,255,0.85)', bordercolor: '#bdbdbd', borderwidth: 1, borderpad: 2
  });
});
sources.forEach((s, i) => {
  annotations.push({
    text: sampleSizes[i], xref: 'paper', yref: 'y2', x: 0.9614, xanchor: 'right', y: s,
    showarrow: false, font: {family: SERIF, size: 9, color: '#555'}
  });
});

const tickFont = {family: SERIF, size: 13, color: '#222'};
const layout = {
  width: 985, height: 482,
  margin: {l: 0, r: 0, t: 0, b: 0},
  paper_bgcolor: '#ffffff', plot_bgcolor: '#ffffff',
  font: {family: SERIF, color: '#222'},
  title: {text: '<b>Viral Proteins Reveal Geometry of Protein Language Models</b>',
          x: 0.5, xanchor: 'center', xref: 'paper', y: 0.971, yref: 'paper', yanchor: 'middle',
          font: {family: SERIF, size: 18, color: '#111'}},
  boxmode: 'overlay',
  showlegend: false,
  xaxis: {
    domain: [0.0792, 0.4234], range: [-1.22, 1.48], anchor: 'y',
    tickvals: [-1, -0.5, 0, 0.5, 1], tickformat: '.1f',
    showgrid: false, zeroline: false, showline: true, linecolor: '#111', linewidth: 1.5,
    ticks: 'outside', ticklen: 3.5, tickcolor: '#111', ticklabelstandoff: -3,
    tickfont: tickFont
  },
  yaxis: {
    domain: [0.0788, 0.8506], range: [-0.405, 0.62], anchor: 'x',
    tickvals: [-0.4, -0.2, 0, 0.2, 0.4, 0.6], tickformat: '.1f',
    showgrid: false, zeroline: false, showline: true, linecolor: '#111', linewidth: 1.5,
    ticks: 'outside', ticklen: 3.5, tickcolor: '#111',
    tickfont: tickFont
  },
  xaxis2: {
    domain: [0.6061, 0.9645], range: [2, 26.25], anchor: 'y2',
    tickvals: [5, 10, 15, 20, 25],
    showgrid: true, gridcolor: '#e6e6e6', gridwidth: 1, zeroline: false,
    showline: true, linecolor: '#111', linewidth: 1.5,
    ticks: 'outside', ticklen: 3.5, tickcolor: '#111', ticklabelstandoff: -3,
    tickfont: tickFont
  },
  yaxis2: {
    domain: [0.0767, 0.8506], anchor: 'x2', type: 'category',
    categoryorder: 'array', categoryarray: sources.slice().reverse(),
    range: [-0.5, 12.62], tickson: 'boundaries',
    showgrid: true, gridcolor: '#e3e3e3', gridwidth: 1, zeroline: false,
    showline: true, linecolor: '#111', linewidth: 1.5, ticks: '',
    tickfont: {family: SERIF, size: 12.5, color: '#222'}
  },
  shapes: [
    {type: 'line', xref: 'paper', yref: 'paper', x0: 0.005, x1: 0.995, y0: 0.948, y1: 0.948,
     line: {color: '#111', width: 2.5}}
  ],
  annotations: annotations
};

Plotly.newPlot('chart', traces, layout, {staticPlot: true, displayModeBar: false});
</script>
</body>
</html>
